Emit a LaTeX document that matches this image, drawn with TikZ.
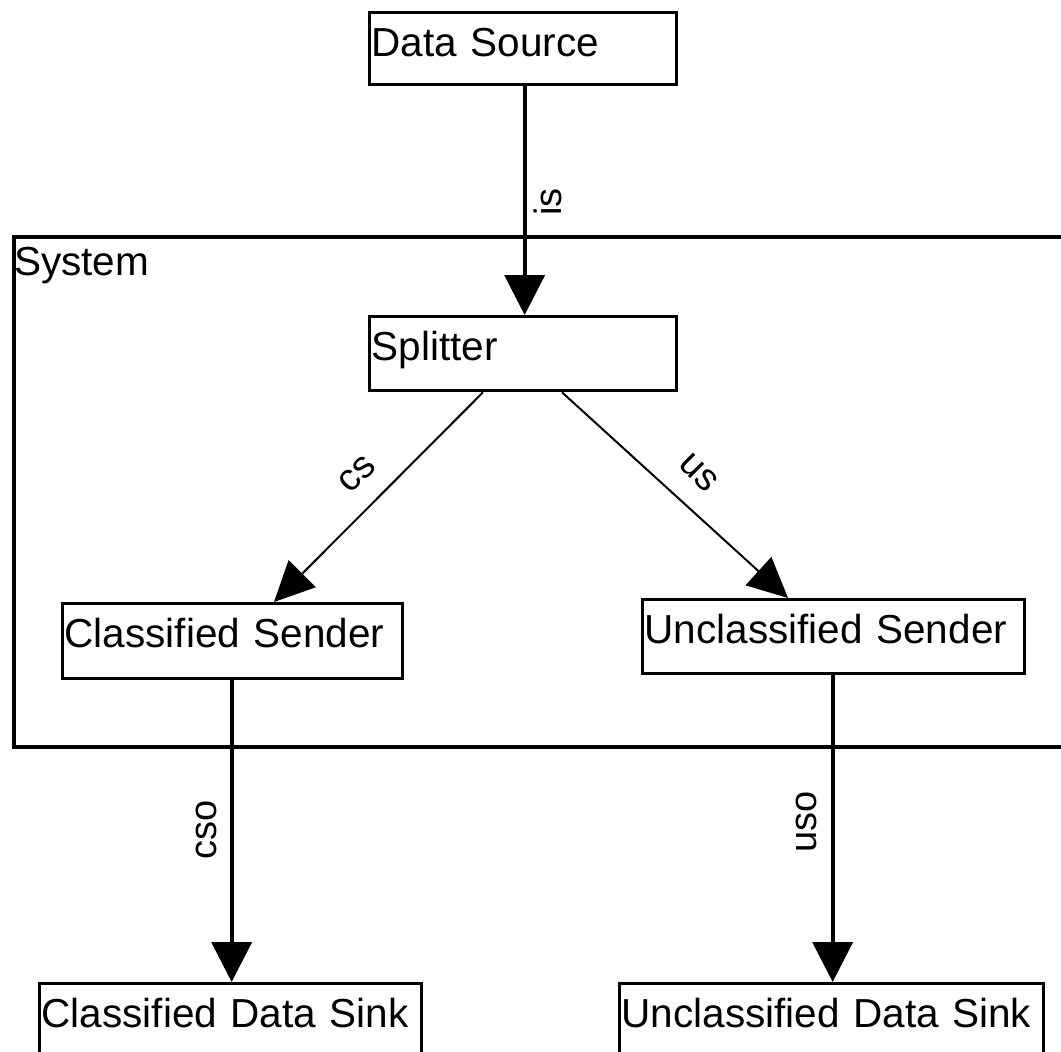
\documentclass[tikz,border=0pt]{standalone}
\usepackage{fontspec}
\setmainfont{Liberation Sans}
\usetikzlibrary{arrows.meta,calc}
\begin{document}
\begin{tikzpicture}[x=1pt,y=-1pt,
  block/.style={draw, line width=3.3pt, rectangle, anchor=north west,
    inner xsep=2pt, inner ysep=0pt, align=left, text height=44pt,
    font=\fontsize{40.5}{48}\selectfont},
  frame/.style={draw, line width=4pt, rectangle, anchor=north west, inner sep=0pt},
  caption/.style={anchor=base west, inner sep=0pt, font=\fontsize{40.5}{48}\selectfont},
  flow/.style={line width=4pt, -{Triangle[length=40pt,width=40pt]}},
  branch/.style={line width=2pt, -{Triangle[length=40pt,width=38pt]}},
  tag/.style={inner sep=0pt, font=\fontsize{38}{44}\selectfont},
]
\useasboundingbox (0,0) rectangle (1061,1052);
\clip (0,0) rectangle (1061,1052);

% enclosing system boundary (open to the right)
\node[frame, minimum width=1070pt, minimum height=510pt] (system) at (12,235) {};
\node[caption] (systitle) at (14,275) {System};

% components
\node[block, text width=303pt, text depth=28pt] (src)   at (368,11)  {Data Source};
\node[block, text width=303pt, text depth=30pt] (split) at (368,315) {Splitter};
\node[block, text width=336pt, text depth=31pt] (csend) at (61,602)  {Classified Sender};
\node[block, text width=378pt, text depth=30pt] (usend) at (641,598) {Unclassified Sender};
\node[block, text width=378pt, text depth=50pt] (csink) at (38,982)  {Classified Data Sink};
\node[block, text width=420pt, text depth=50pt] (usink) at (618,982) {Unclassified Data Sink};

% data flows
\draw[flow] ([xshift=1.5pt]src.south) -- ([xshift=1.5pt]split.north);
\draw[branch] ([xshift=115pt]split.south west) -- ([xshift=213pt]csend.north west);
\draw[branch] ([xshift=194pt]split.south west) -- ([xshift=147pt]usend.north west);
\draw[flow] ($(csend.south)+(-1,0)$) -- ($(csend.south |- csink.north)+(-1,0)$);
\draw[flow] ($(usend.south)+(-1,0)$) -- ($(usend.south |- usink.north)+(-1,0)$);

% stream names
\node[tag, rotate=90]  (lis)  at (548,202) {is};
\node[tag, rotate=45]  (lcs)  at (357,474) {cs};
\node[tag, rotate=-45] (lus)  at (699,473) {us};
\node[tag, rotate=90]  (lcso) at (206,830) {cso};
\node[tag, rotate=90]  (luso) at (806,822) {uso};
\end{tikzpicture}
\end{document}
